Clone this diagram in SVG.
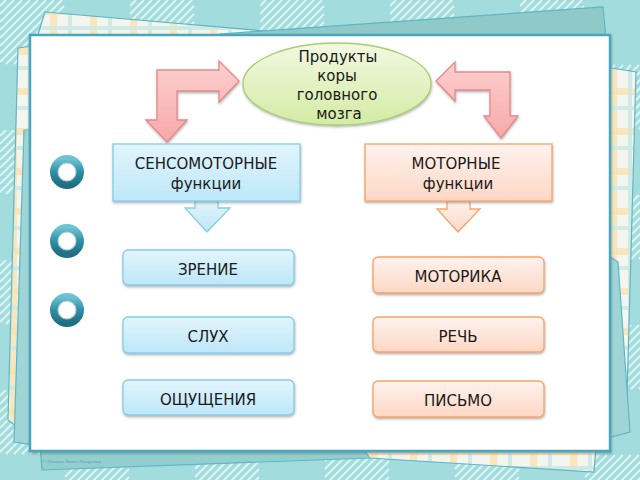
<svg xmlns="http://www.w3.org/2000/svg" width="640" height="480" viewBox="0 0 640 480">
<defs>
  <pattern id="stripes" width="130" height="130" patternUnits="userSpaceOnUse">
    <rect width="130" height="130" fill="#a2dcdc"/>
    <g stroke="#e6f7f6" stroke-width="2.2" opacity="0.85">
      <path d="M0 6 L6 0 M0 14 L14 0 M0 22 L22 0 M0 30 L30 0 M0 38 L38 0 M0 46 L46 0 M0 54 L54 0 M0 62 L62 0 M6 64 L64 6 M14 64 L64 14 M22 64 L64 22 M30 64 L64 30 M38 64 L64 38 M46 64 L64 46 M54 64 L64 54 M62 64 L64 62"/>
      <path transform="translate(65 65)" d="M0 6 L6 0 M0 14 L14 0 M0 22 L22 0 M0 30 L30 0 M0 38 L38 0 M0 46 L46 0 M0 54 L54 0 M0 62 L62 0 M6 64 L64 6 M14 64 L64 14 M22 64 L64 22 M30 64 L64 30 M38 64 L64 38 M46 64 L64 46 M54 64 L64 54 M62 64 L64 62"/>
    </g>
  </pattern>
  <pattern id="plaid" width="40" height="40" patternUnits="userSpaceOnUse">
    <rect width="40" height="40" fill="#f3f6ee"/>
    <rect x="0" y="8" width="40" height="7" fill="#f9e2b0" opacity="0.8"/>
    <rect x="10" y="0" width="7" height="40" fill="#f9e2b0" opacity="0.8"/>
    <rect x="0" y="26" width="40" height="4" fill="#cfe9e6" opacity="0.9"/>
    <rect x="28" y="0" width="4" height="40" fill="#cfe9e6" opacity="0.9"/>
  </pattern>
  <linearGradient id="gBlue" x1="0" y1="0" x2="0" y2="1">
    <stop offset="0" stop-color="#e2f5fc"/>
    <stop offset="1" stop-color="#bde7f8"/>
  </linearGradient>
  <linearGradient id="gOrange" x1="0" y1="0" x2="0" y2="1">
    <stop offset="0" stop-color="#fff3ee"/>
    <stop offset="1" stop-color="#fdd7c5"/>
  </linearGradient>
  <linearGradient id="gGreen" x1="0" y1="0" x2="0" y2="1">
    <stop offset="0" stop-color="#f3f9e2"/>
    <stop offset="1" stop-color="#d3eba4"/>
  </linearGradient>
  <linearGradient id="gRed" x1="0" y1="0" x2="0" y2="1">
    <stop offset="0" stop-color="#fccfcf"/>
    <stop offset="1" stop-color="#f8a9a9"/>
  </linearGradient>
  <linearGradient id="gRing" x1="0" y1="0" x2="0" y2="1">
    <stop offset="0" stop-color="#6cc3d3"/>
    <stop offset="0.5" stop-color="#2e8fa6"/>
    <stop offset="1" stop-color="#1f6f84"/>
  </linearGradient>
  <filter id="shadow" x="-10%" y="-10%" width="120%" height="130%">
    <feDropShadow dx="0.5" dy="1.5" stdDeviation="1" flood-color="#555" flood-opacity="0.45"/>
  </filter>
</defs>
<style>
  text { font-family: "DejaVu Sans", "Liberation Sans", sans-serif; font-size: 15px; fill: #1a1a1a; text-anchor: middle; }
  .blue { fill: url(#gBlue); stroke: #86cde6; stroke-width: 1.3; }
  .orange { fill: url(#gOrange); stroke: #f4a56c; stroke-width: 1.3; }
  .red { fill: url(#gRed); stroke: #e48a8a; stroke-width: 1.3; }
  .ring { fill: none; stroke: url(#gRing); stroke-width: 8; }
</style>

<!-- background -->
<rect width="640" height="480" fill="url(#stripes)"/>

<!-- paper sheets -->
<polygon points="45,12 300,34 60,60 30,60" fill="url(#plaid)" stroke="#5fb6c8" stroke-width="1.2"/>
<polygon points="220,34 603,7 608,60 230,60" fill="#8fc9c8" stroke="#5fb6c8" stroke-width="1.2"/>
<polygon points="18,48 34,46 34,440 8,420" fill="url(#plaid)" stroke="#5fb6c8" stroke-width="1.2"/>
<polygon points="24,130 34,130 34,445 14,442" fill="#9fd5d6" stroke="#5fb6c8" stroke-width="1.2"/>
<polygon points="600,66 636,72 626,432 600,432" fill="url(#plaid)" stroke="#5fb6c8" stroke-width="1.2"/>
<polygon points="600,250 618,262 630,432 600,440" fill="#9fd5d6" stroke="#5fb6c8" stroke-width="1.2"/>
<polygon points="40,445 370,445 370,458 42,470" fill="#93cfcf" stroke="#5fb6c8" stroke-width="1.2"/>
<polygon points="360,445 596,445 594,472 370,458" fill="url(#plaid)" stroke="#5fb6c8" stroke-width="1.2"/>
<text x="42" y="463" style="font-family:'Liberation Serif',serif;font-size:5px;font-style:italic;fill:#4f9fb5;text-anchor:start">© Фокина Лидия Петровна</text>

<!-- main card -->
<rect x="30" y="35" width="580" height="416" fill="#ffffff" stroke="#4aa6bf" stroke-width="2.5" filter="url(#shadow)"/>

<!-- rings -->
<g id="rings">
  <circle cx="67" cy="172" r="13" class="ring"/>
  <circle cx="67" cy="172" r="9" fill="none" stroke="#b9c9cc" stroke-width="1.2"/>
  <circle cx="67" cy="241" r="13" class="ring"/>
  <circle cx="67" cy="241" r="9" fill="none" stroke="#b9c9cc" stroke-width="1.2"/>
  <circle cx="67" cy="310" r="13" class="ring"/>
  <circle cx="67" cy="310" r="9" fill="none" stroke="#b9c9cc" stroke-width="1.2"/>
</g>

<!-- connectors -->
<g id="connectors">
  <polygon class="red" points="167,142 146,120 157,120 157,70 219,70 219,61 239,81 219,102 219,91 177,91 177,120 187,120" filter="url(#shadow)"/>
  <polygon class="red" points="436,81 455,62 455,72 510,72 510,116 518,116 501,138 484,116 490,116 490,90 455,90 455,101" filter="url(#shadow)"/>
  <polygon class="blue" points="195,201 218,201 218,208 230,208 207,232 185,208 195,208"/>
  <polygon class="orange" points="447,201 470,201 470,209 480,209 458,232 437,209 447,209"/>
</g>

<!-- nodes -->
<g id="node-brain">
  <ellipse cx="337" cy="84" rx="94" ry="41" fill="url(#gGreen)" stroke="#a8cf70" stroke-width="1.3" filter="url(#shadow)"/>
  <text x="338" y="62">Продукты</text>
  <text x="337" y="81">коры</text>
  <text x="337" y="100">головного</text>
  <text x="339" y="119">мозга</text>
</g>
<g id="node-sensory">
  <rect x="113" y="144" width="187" height="57" class="blue" filter="url(#shadow)"/>
  <text x="206" y="169">СЕНСОМОТОРНЫЕ</text>
  <text x="206" y="189">функции</text>
</g>
<g id="node-motor">
  <rect x="365" y="144" width="187" height="57" class="orange" filter="url(#shadow)"/>
  <text x="456" y="169">МОТОРНЫЕ</text>
  <text x="458" y="189">функции</text>
</g>
<g id="node-vision">
  <rect x="123" y="250" width="171" height="35" rx="5" class="blue" filter="url(#shadow)"/>
  <text x="208" y="275">ЗРЕНИЕ</text>
</g>
<g id="node-hearing">
  <rect x="123" y="317" width="171" height="36" rx="5" class="blue" filter="url(#shadow)"/>
  <text x="208" y="342">СЛУХ</text>
</g>
<g id="node-feeling">
  <rect x="123" y="380" width="171" height="35" rx="5" class="blue" filter="url(#shadow)"/>
  <text x="208" y="405">ОЩУЩЕНИЯ</text>
</g>
<g id="node-motorics">
  <rect x="373" y="257" width="171" height="36" rx="5" class="orange" filter="url(#shadow)"/>
  <text x="458" y="282">МОТОРИКА</text>
</g>
<g id="node-speech">
  <rect x="373" y="317" width="171" height="35" rx="5" class="orange" filter="url(#shadow)"/>
  <text x="458" y="342">РЕЧЬ</text>
</g>
<g id="node-writing">
  <rect x="373" y="381" width="171" height="36" rx="5" class="orange" filter="url(#shadow)"/>
  <text x="458" y="406">ПИСЬМО</text>
</g>
</svg>
